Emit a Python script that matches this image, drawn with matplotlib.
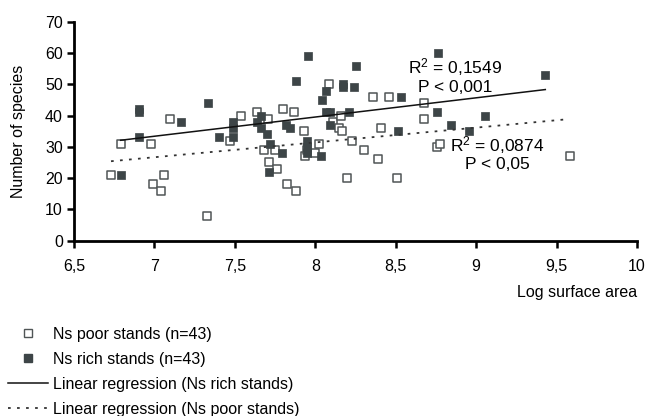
import numpy as np
import matplotlib
matplotlib.use('Agg')
from matplotlib import pyplot as plt
from matplotlib.lines import Line2D

plt.rcParams['font.family'] = ['Liberation Sans', 'DejaVu Sans']
plt.rcParams['mathtext.fontset'] = 'custom'
plt.rcParams['mathtext.rm'] = 'Liberation Sans'
plt.rcParams['mathtext.it'] = 'Liberation Sans'
plt.rcParams['mathtext.default'] = 'regular'

# Ns poor stands (open squares)
poor_x = [6.73, 6.79, 6.977, 6.993, 7.04, 7.06, 7.097, 7.324, 7.47, 7.54,
          7.64, 7.706, 7.683, 7.712, 7.749, 7.762, 7.80, 7.867, 7.824, 7.878,
          7.93, 7.935, 7.997, 8.022, 8.087, 8.11, 8.158, 8.149, 8.166, 8.197,
          8.228, 8.305, 8.358, 8.456, 8.675, 8.675, 8.41, 8.39, 8.508, 8.758,
          8.775, 9.583, 7.946]
poor_y = [21, 31, 31, 18, 16, 21, 39, 8, 32, 40,
          41, 39, 29, 25, 29, 23, 42, 41, 18, 16,
          35, 27, 28, 31, 50, 38, 40, 36, 35, 20,
          32, 29, 46, 46, 44, 39, 36, 26, 20, 30,
          31, 27, 29]

# Ns rich stands (filled squares)
rich_x = [6.79, 6.906, 6.906, 6.906, 7.163, 7.335, 7.399, 7.488, 7.488, 7.488,
          7.662, 7.64, 7.662, 7.70, 7.716, 7.712, 7.793, 7.816, 7.844, 7.878,
          7.952, 8.043, 8.064, 8.064, 8.091, 8.089, 8.035, 8.171, 8.171, 8.242,
          8.254, 8.209, 8.76, 8.532, 9.43, 8.758, 9.052, 8.845, 8.955, 8.516,
          7.946, 7.946, 7.946]
rich_y = [21, 42, 41, 33, 38, 44, 33, 38, 36, 33,
          40, 38, 36, 34, 31, 22, 28, 37, 36, 51,
          59, 45, 48, 41, 41, 37, 27, 50, 49, 49,
          56, 41, 60, 46, 53, 41, 40, 37, 35, 35,
          32, 30, 28]

# regression lines (slope, intercept)
rich_fit = (6.14, -9.59)
poor_fit = (4.73, -6.43)

x_ticks = [6.5, 7, 7.5, 8, 8.5, 9, 9.5, 10]
x_labels = ['6,5', '7', '7,5', '8', '8,5', '9', '9,5', '10']
y_ticks = [0, 10, 20, 30, 40, 50, 60, 70]

fill_col = '#3d4547'
edge_col = '#505556'

fig = plt.figure(figsize=(6.5, 4.16), dpi=100)
ax = fig.add_axes([74 / 650, 1 - 240.7 / 416, (637 - 74) / 650, (240.7 - 21.7) / 416])

ax.scatter(poor_x, poor_y, marker='s', s=36, facecolors='white',
           edgecolors=edge_col, linewidths=1.1, zorder=3)
ax.scatter(rich_x, rich_y, marker='s', s=40, color=fill_col,
           edgecolors=fill_col, linewidths=0.5, zorder=3)

rx = np.array([min(rich_x), max(rich_x)])
ax.plot(rx, rich_fit[0] * rx + rich_fit[1], color='#111111', lw=1.1, zorder=4)
px = np.array([min(poor_x), 9.56])
ax.plot(px, poor_fit[0] * px + poor_fit[1], color='#333333', lw=1.3,
        linestyle=(0, (1.5, 3.5)), zorder=4)

ax.text(8.87, 55.4, 'R$^2$ = 0,1549', ha='center', va='center', fontsize=12.5)
ax.text(8.87, 49.0, 'P < 0,001', ha='center', va='center', fontsize=12.5)
ax.text(9.13, 30.5, 'R$^2$ = 0,0874', ha='center', va='center', fontsize=12.5)
ax.text(9.13, 24.4, 'P < 0,05', ha='center', va='center', fontsize=12.5)

ax.set_xlim(6.5, 10)
ax.set_ylim(0, 70)
ax.set_xticks(x_ticks)
ax.set_xticklabels(x_labels)
ax.set_yticks(y_ticks)
ax.tick_params(direction='out', length=5, width=1.8, labelsize=11.5, pad=8)
ax.tick_params(axis='y', pad=3)
for s in ['top', 'right']:
    ax.spines[s].set_visible(False)
for s in ['left', 'bottom']:
    ax.spines[s].set_linewidth(2)

ax.set_ylabel('Number of species', fontsize=11.5, labelpad=14)
fig.text(637 / 650, 1 - 293 / 416, 'Log surface area', ha='right',
         va='center', fontsize=11.5)

handles = [
    Line2D([], [], marker='s', linestyle='none', markersize=5.5,
           markerfacecolor='white', markeredgecolor=edge_col, markeredgewidth=1),
    Line2D([], [], marker='s', linestyle='none', markersize=6,
           markerfacecolor=fill_col, markeredgecolor=fill_col),
    Line2D([], [], color='#111111', lw=1.1),
    Line2D([], [], color='#333333', lw=1.3, linestyle=(0, (1.5, 3.5))),
]
labels = ['Ns poor stands (n=43)', 'Ns rich stands (n=43)',
          'Linear regression (Ns rich stands)',
          'Linear regression (Ns poor stands)']
fig.legend(handles, labels, loc='upper left', bbox_to_anchor=(8 / 650, 1 - 327 / 416),
           frameon=False, fontsize=11.5, handlelength=2.5, handletextpad=0.3,
           borderpad=0, borderaxespad=0, labelspacing=0.62)

plt.savefig('out.png', dpi=100)
plt.close('all')
